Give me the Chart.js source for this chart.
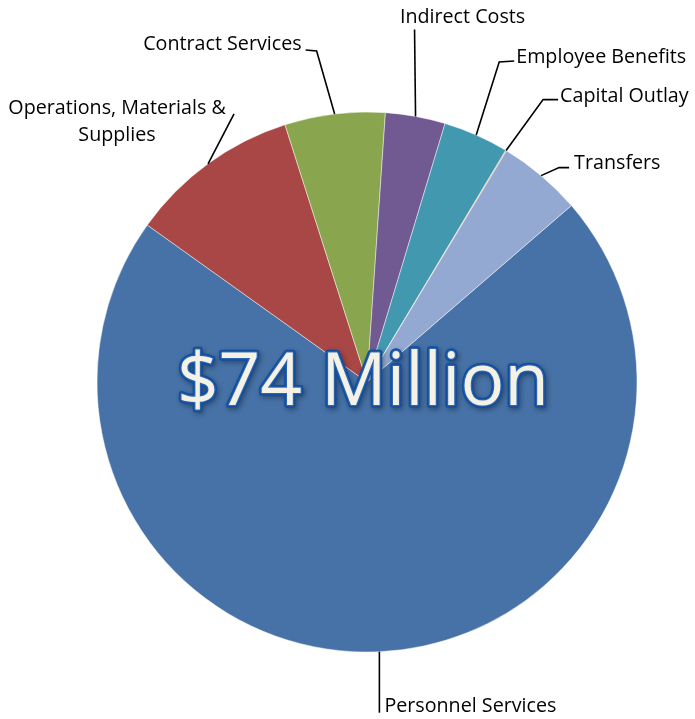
<!DOCTYPE html>
<html>
<head>
<meta charset="utf-8">
<script src="https://cdn.jsdelivr.net/npm/chart.js@4/dist/chart.umd.min.js"></script>
<style>
  html, body { margin: 0; padding: 0; background: #ffffff; }
  #wrap { width: 695px; height: 719px; position: relative; }
</style>
</head>
<body>
<div id="wrap"><canvas id="budget" width="695" height="719"></canvas></div>
<script>
// Spending categories, in chart order (clockwise from the first slice)
const categories = [
  'Personnel Services',
  'Operations, Materials & Supplies',
  'Contract Services',
  'Indirect Costs',
  'Employee Benefits',
  'Capital Outlay',
  'Transfers'
];

// Amounts in millions of dollars
const values = [52.70, 7.56, 4.44, 2.65, 2.90, 0.04, 3.72];

// Text shown beside each slice (line breaks as displayed)
const labelLines = [
  ['Personnel Services'],
  ['Operations, Materials &', 'Supplies'],
  ['Contract Services'],
  ['Indirect Costs'],
  ['Employee Benefits'],
  ['Capital Outlay'],
  ['Transfers']
];

// Total shown across the pie
const totalText = '$74 Million';

const sliceColors = ['#4672A7', '#A84745', '#89A54E', '#715A91', '#4298AF', '#E8883A', '#94A9D1'];

// Leader-line routes and text offsets, relative to each slice's outer-edge midpoint
const calloutLayout = [
  { path: [[0, 61]],                align: 'left',   tx: 5,   ty: 60 },
  { path: [[26, -50]],              align: 'center', tx: -91, ty: -50 },
  { path: [[-18, -63], [-29, -64]], align: 'right',  tx: -33, ty: -64 },
  { path: [[-1, -87]],              align: 'center', tx: 47,  ty: -93 },
  { path: [[23, -73], [38, -74]],   align: 'left',   tx: 40,  ty: -72 },
  { path: [[37, -51], [52, -51]],   align: 'left',   tx: 54,  ty: -49 },
  { path: [[18, -8], [28, -8]],     align: 'left',   tx: 33,  ty: -7 }
];

const calloutPlugin = {
  id: 'callouts',
  afterDatasetsDraw(chart) {
    const ctx = chart.ctx;
    const meta = chart.getDatasetMeta(0);
    ctx.save();
    ctx.strokeStyle = '#000000';
    ctx.lineWidth = 1.6;
    ctx.fillStyle = '#000000';
    ctx.font = '19.7px "Open Sans"';
    ctx.textBaseline = 'alphabetic';
    meta.data.forEach((arc, i) => {
      const p = arc.getProps(['x', 'y', 'startAngle', 'endAngle', 'outerRadius'], true);
      const mid = (p.startAngle + p.endAngle) / 2;
      const ax = p.x + Math.cos(mid) * p.outerRadius;
      const ay = p.y + Math.sin(mid) * p.outerRadius;
      const lay = calloutLayout[i];
      ctx.beginPath();
      ctx.moveTo(ax, ay);
      lay.path.forEach(([dx, dy]) => ctx.lineTo(ax + dx, ay + dy));
      ctx.stroke();
      ctx.textAlign = lay.align;
      labelLines[i].forEach((line, k) => {
        ctx.fillText(line, ax + lay.tx, ay + lay.ty + k * 27);
      });
    });

    // Total amount over the centre of the pie
    const c = meta.data[0];
    const cx = c.x - 4, cy = c.y + 23;
    ctx.font = '73px "Open Sans"';
    ctx.textAlign = 'center';
    ctx.lineJoin = 'round';
    ctx.shadowColor = 'rgba(0,0,0,0.35)';
    ctx.shadowBlur = 5;
    ctx.shadowOffsetX = 1.5;
    ctx.shadowOffsetY = 2;
    ctx.lineWidth = 5.5;
    ctx.strokeStyle = '#124D9D';
    ctx.strokeText(totalText, cx, cy);
    ctx.shadowColor = 'transparent';
    ctx.lineWidth = 2.5;
    ctx.strokeStyle = '#2A64B0';
    ctx.strokeText(totalText, cx, cy);
    ctx.fillStyle = '#F4F1E6';
    ctx.fillText(totalText, cx, cy);
    ctx.restore();
  }
};

new Chart(document.getElementById('budget'), {
  type: 'pie',
  data: {
    labels: categories,
    datasets: [{
      data: values,
      backgroundColor: sliceColors,
      borderColor: 'rgba(255,255,255,0.45)',
      borderWidth: 1
    }]
  },
  options: {
    responsive: false,
    animation: false,
    devicePixelRatio: 1,
    rotation: 49.2,
    radius: 270,
    layout: { padding: { left: 96, right: 57, top: 112, bottom: 67 } },
    plugins: {
      legend: { display: false },
      tooltip: { enabled: false }
    },
    events: []
  },
  plugins: [calloutPlugin]
});
</script>
</body>
</html>
